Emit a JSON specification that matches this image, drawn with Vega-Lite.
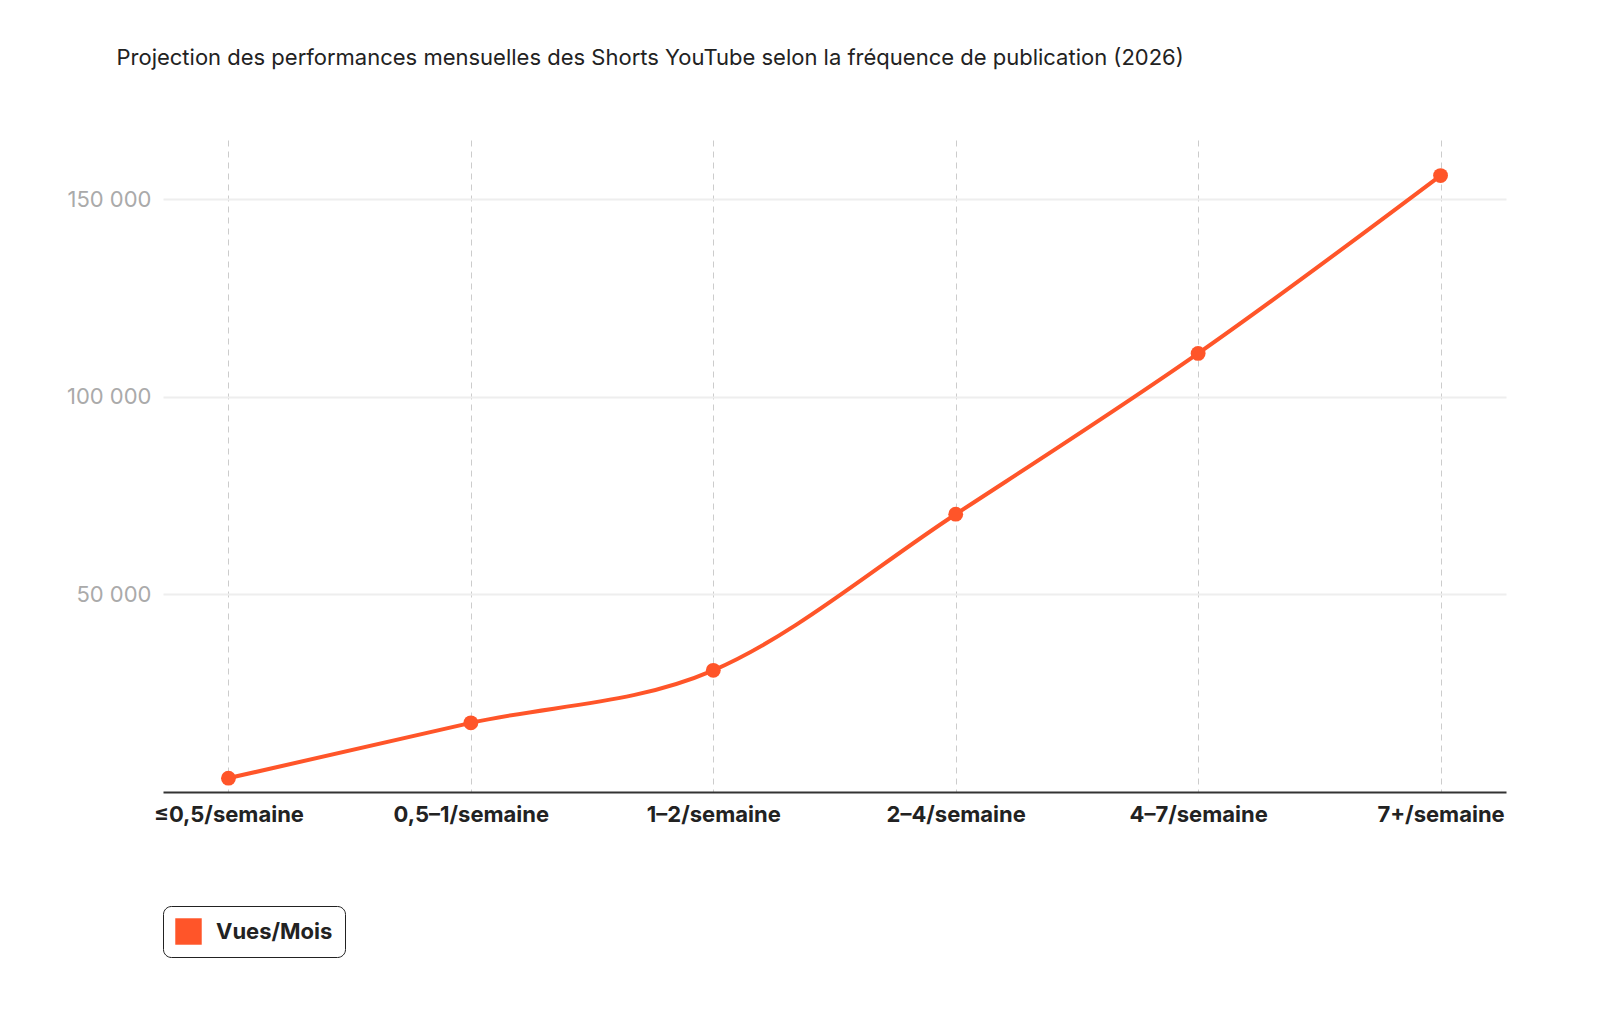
{
  "$schema": "https://vega.github.io/schema/vega-lite/v6.json",
  "autosize": "none",
  "width": 1343,
  "height": 652,
  "padding": {"left": 163, "top": 140, "right": 94, "bottom": 224},
  "background": "white",
  "config": {"font": "Inter", "view": {"stroke": null}},
  "title": {
    "text": "Projection des performances mensuelles des Shorts YouTube selon la fréquence de publication (2026)",
    "fontSize": 22, "fontWeight": "normal", "color": "#222222",
    "anchor": "start", "dx": 50, "offset": 70
  },
  "data": {
    "values": [
      {"freq": "≤0,5/semaine", "vues": 3500, "serie": "Vues/Mois"},
      {"freq": "0,5–1/semaine", "vues": 17500, "serie": "Vues/Mois"},
      {"freq": "1–2/semaine", "vues": 30800, "serie": "Vues/Mois"},
      {"freq": "2–4/semaine", "vues": 70300, "serie": "Vues/Mois"},
      {"freq": "4–7/semaine", "vues": 111000, "serie": "Vues/Mois"},
      {"freq": "7+/semaine", "vues": 156000, "serie": "Vues/Mois"}
    ]
  },
  "encoding": {
    "x": {
      "field": "freq", "type": "ordinal", "sort": null,
      "scale": {"type": "point", "padding": 0.27},
      "axis": {
        "title": null, "labelAngle": 0, "labelFontSize": 22, "labelFontWeight": "bold",
        "labelColor": "#222222", "labelPadding": 12, "ticks": false,
        "domainColor": "#333333", "domainWidth": 2,
        "grid": true, "gridDash": [6, 5], "gridColor": "#cccccc"
      }
    },
    "y": {
      "field": "vues", "type": "quantitative",
      "scale": {"domain": [0, 165000], "nice": false},
      "axis": {
        "title": null, "values": [50000, 100000, 150000], "format": ",d",
        "labelExpr": "replace(datum.label, ',', ' ')",
        "labelFontSize": 22, "labelColor": "#aaaaaa", "labelPadding": 12,
        "domain": false, "ticks": false, "gridColor": "#eeeeee", "gridWidth": 2
      }
    },
    "color": {
      "field": "serie", "type": "nominal",
      "scale": {"range": ["#FF5529"]},
      "legend": {
        "title": null, "orient": "none", "legendX": 0, "legendY": 766,
        "symbolType": "square", "symbolSize": 700, "symbolStrokeWidth": 0,
        "symbolFillColor": "#FF5529", "symbolOpacity": 1,
        "labelFontSize": 22, "labelFontWeight": "bold", "labelColor": "#222222",
        "strokeColor": "#222222", "cornerRadius": 8, "padding": 12,
        "labelOffset": 14
      }
    }
  },
  "layer": [
    {"mark": {"type": "line", "interpolate": "monotone", "strokeWidth": 4}},
    {"mark": {"type": "circle", "size": 220, "opacity": 1}, "encoding": {"color": {"value": "#FF5529"}}}
  ]
}
